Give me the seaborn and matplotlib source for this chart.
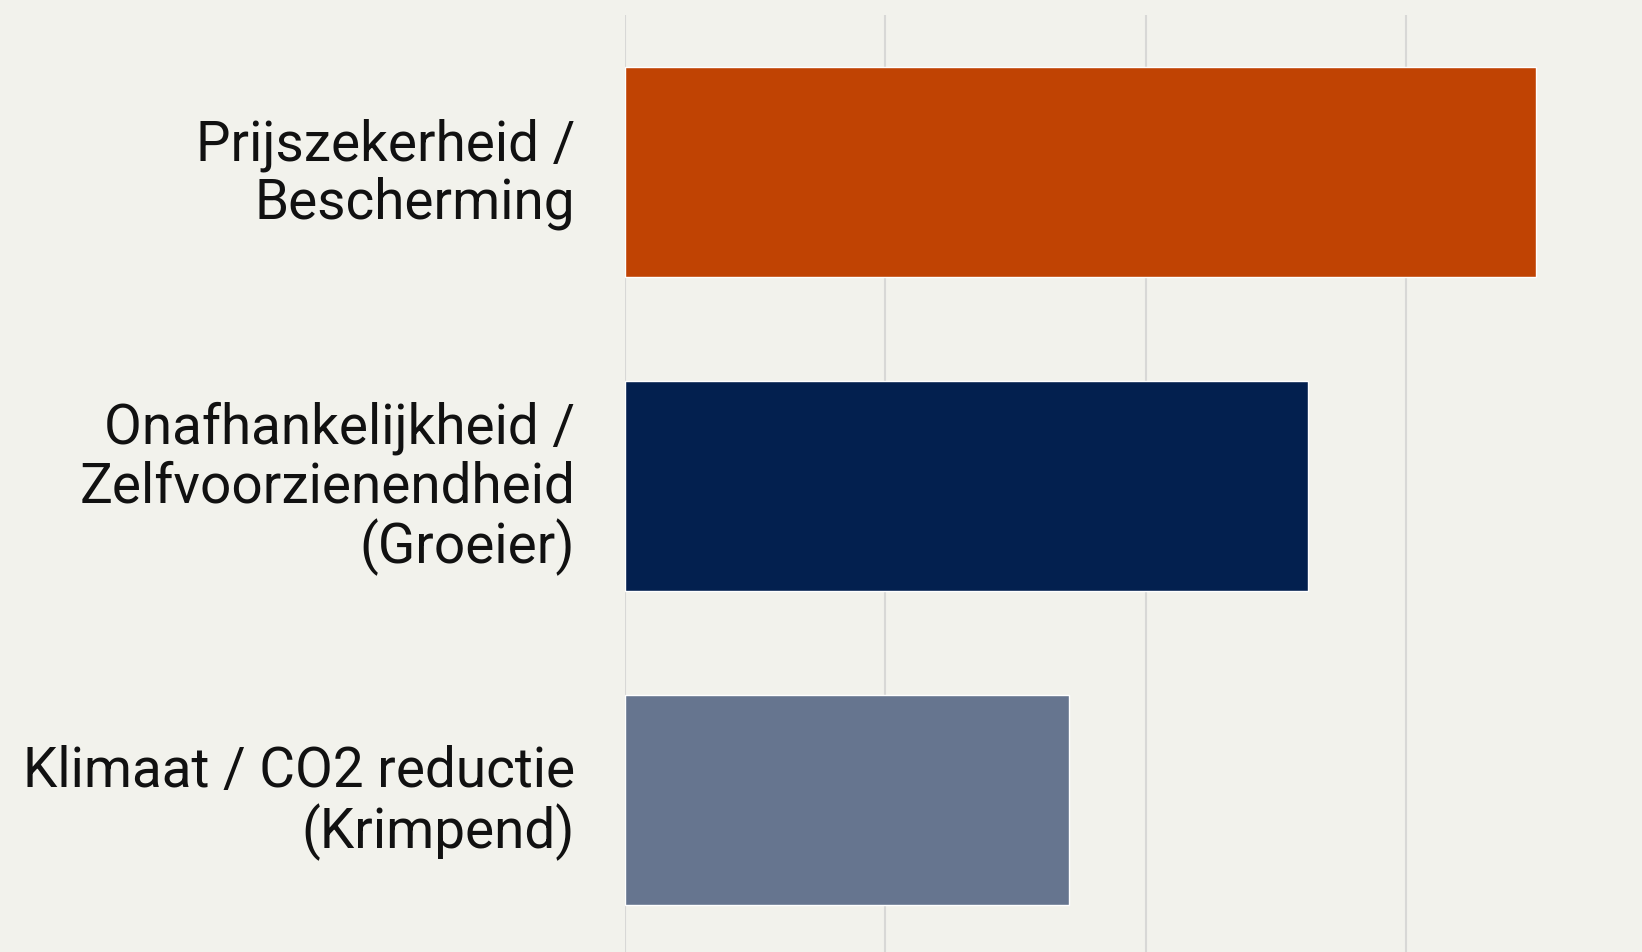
import matplotlib.pyplot as plt
import matplotlib.transforms as mtransforms
import seaborn as sns
import pandas as pd

# values (grid step = 10)
categories = ["Prijszekerheid /\nBescherming",
              "Onafhankelijkheid /\nZelfvoorzienendheid\n(Groeier)",
              "Klimaat / CO2 reductie\n(Krimpend)"]
values = [35, 26.25, 17.05]
colors = ["#C04303", "#03204F", "#66758F"]

df = pd.DataFrame({"motief": categories, "waarde": values})

sns.set_style("whitegrid")
plt.rcParams['font.family'] = ['Roboto', 'DejaVu Sans']

bg = "#F2F2EC"
fig = plt.figure(figsize=(16.42, 9.52), dpi=100, facecolor=bg)
ax = fig.add_axes([625 / 1642, -5 / 952, 1041 / 1642, 942 / 952])
ax.set_facecolor(bg)

sns.barplot(data=df, x="waarde", y="motief", hue="motief", palette=colors,
            width=0.667, legend=False, ax=ax, saturation=1)

ax.set_xlim(0, 40)
ax.set_ylim(2.5, -0.5)
ax.set_xticks([0, 10, 20, 30])
ax.xaxis.grid(True, color="#D8D8D6", linewidth=1.5)
ax.yaxis.grid(False)
ax.set_axisbelow(True)
ax.tick_params(axis="x", labelbottom=False, length=0)
ax.tick_params(axis="y", length=0, pad=36, labelsize=39.5, labelcolor="#111111")
shift = mtransforms.ScaledTranslation(0, 6 / 100, fig.dpi_scale_trans)
for lbl in ax.get_yticklabels():
    lbl.set_horizontalalignment("right")
    lbl.set_linespacing(1.12)
    lbl.set_transform(lbl.get_transform() + shift)
ax.set_xlabel("")
ax.set_ylabel("")
for s in ax.spines.values():
    s.set_visible(False)

plt.savefig("out.png", dpi=100, facecolor=bg)
